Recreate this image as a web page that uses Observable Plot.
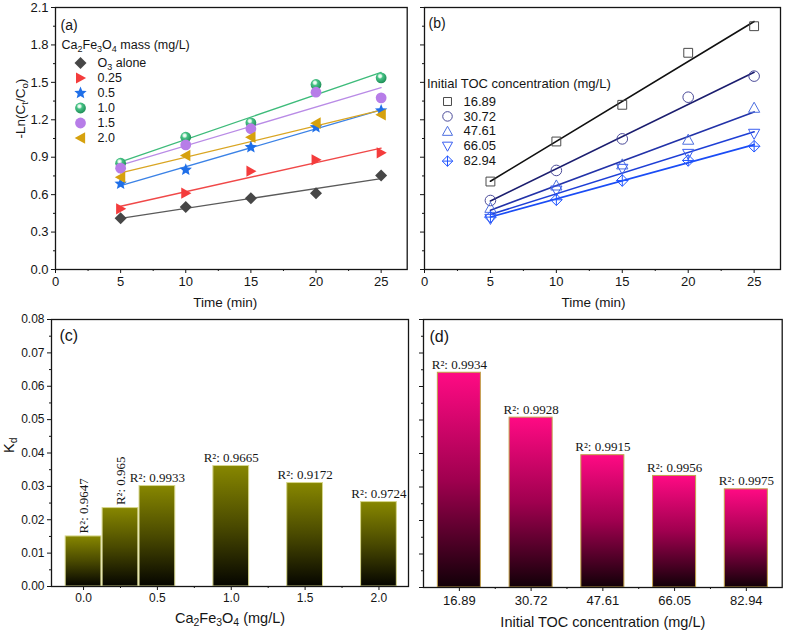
<!DOCTYPE html>
<html><head><meta charset="utf-8">
<script src="https://cdn.jsdelivr.net/npm/d3@7"></script>
<script src="https://cdn.jsdelivr.net/npm/@observablehq/plot@0.6"></script>
<style>
body{margin:0;background:#fff;}
#root{position:relative;width:787px;height:630px;overflow:hidden;background:#fff;}
#root svg{position:absolute;overflow:visible;}
</style></head><body><div id="root"></div>
<script>
// ---------- DATA ----------
const times = [5, 10, 15, 20, 25];

// panel (a): -Ln(Ct/Co) vs time for Ca2Fe3O4 mass
const massLabels = ["O_{3} alone", "0.25", "0.5", "1.0", "1.5", "2.0"];
const massO3  = [0.411, 0.500, 0.571, 0.612, 0.753];
const mass025 = [0.486, 0.612, 0.788, 0.879, 0.935];
const mass05  = [0.687, 0.799, 0.980, 1.140, 1.274];
const mass10  = [0.852, 1.060, 1.176, 1.483, 1.536];
const mass15  = [0.812, 0.999, 1.128, 1.421, 1.376];
const mass20  = [0.740, 0.914, 1.060, 1.173, 1.240];

// panel (b): -Ln(Ct/Co) vs time for initial TOC
const tocLabels = ["16.89", "30.72", "47.61", "66.05", "82.94"];
const toc1689 = [0.705, 1.026, 1.320, 1.737, 1.950];
const toc3072 = [0.553, 0.794, 1.047, 1.381, 1.550];
const toc4761 = [0.494, 0.673, 0.842, 1.040, 1.296];
const toc6605 = [0.406, 0.633, 0.807, 0.927, 1.088];
const toc8294 = [0.420, 0.559, 0.713, 0.874, 0.988];

// panel (c): Kd vs Ca2Fe3O4 dose
const doseX  = [0, 0.25, 0.5, 1.0, 1.5, 2.0];
const doseKd = [0.0150, 0.0235, 0.0301, 0.0361, 0.0310, 0.0253];
const doseR2 = ["0.9647", "0.965", "0.9933", "0.9665", "0.9172", "0.9724"];

// panel (d): Kd vs initial TOC
const tocKd = [0.0641, 0.0507, 0.0395, 0.0333, 0.0293];
const tocR2 = ["0.9934", "0.9928", "0.9915", "0.9956", "0.9975"];

// tick values
const lnTicks = [0, 0.3, 0.6, 0.9, 1.2, 1.5, 1.8, 2.1];
const lnMinor = [0.15, 0.45, 0.75, 1.05, 1.35, 1.65, 1.95];
const timeTicks = [0, 5, 10, 15, 20, 25];
const timeMinor = [2.5, 7.5, 12.5, 17.5, 22.5];
const kdTicks = [0, 0.01, 0.02, 0.03, 0.04, 0.05, 0.06, 0.07, 0.08];
const kdMinor = [0.005, 0.015, 0.025, 0.035, 0.045, 0.055, 0.065, 0.075];
const doseTicks = [0, 0.5, 1.0, 1.5, 2.0];
const doseMinor = [0.25, 0.75, 1.25, 1.75];

// ---------- HELPERS ----------
const NS = "http://www.w3.org/2000/svg";
const SANS = "'Liberation Sans', Arial, sans-serif";
const SERIF = "'Liberation Serif', 'Times New Roman', serif";
const INK = "#151515";

function sym(fn) { return {draw(c, size) { fn(c, Math.sqrt(size / Math.PI)); }}; }
const diamond = sym((c, r) => { c.moveTo(0, -r); c.lineTo(r, 0); c.lineTo(0, r); c.lineTo(-r, 0); c.closePath(); });
const triRight = sym((c, r) => { c.moveTo(r, 0); c.lineTo(-0.8 * r, -r); c.lineTo(-0.8 * r, r); c.closePath(); });
const triLeft = sym((c, r) => { c.moveTo(-r, 0); c.lineTo(0.8 * r, -r); c.lineTo(0.8 * r, r); c.closePath(); });
const triUp = sym((c, r) => { c.moveTo(0, -r); c.lineTo(r, 0.8 * r); c.lineTo(-r, 0.8 * r); c.closePath(); });
const triDown = sym((c, r) => { c.moveTo(0, r); c.lineTo(r, -0.8 * r); c.lineTo(-r, -0.8 * r); c.closePath(); });
const square = sym((c, r) => { c.rect(-0.85 * r, -0.85 * r, 1.7 * r, 1.7 * r); });
const circle = sym((c, r) => { c.moveTo(r, 0); c.arc(0, 0, r, 0, 2 * Math.PI); });
const diamondPlus = sym((c, r) => {
  c.moveTo(0, -r); c.lineTo(r, 0); c.lineTo(0, r); c.lineTo(-r, 0); c.closePath();
  c.moveTo(0, -r); c.lineTo(0, r); c.moveTo(-r, 0); c.lineTo(r, 0);
});
const star = sym((c, r) => {
  const R = r * 1.2, q = R * 0.45;
  for (let i = 0; i < 10; i++) {
    const a = -Math.PI / 2 + i * Math.PI / 5, rr = i % 2 ? q : R;
    const x = rr * Math.cos(a), y = rr * Math.sin(a);
    i ? c.lineTo(x, y) : c.moveTo(x, y);
  }
  c.closePath();
});

function defsMark(markup) {
  return () => { const d = document.createElementNS(NS, "defs"); d.innerHTML = markup; return d; };
}

// turn "_{x}" / "^{x}" markers into sub/superscript tspans
function richify(svg) {
  svg.querySelectorAll("text").forEach(t => {
    const s = t.textContent;
    if (!/[_^]\{/.test(s)) return;
    const fs = parseFloat(getComputedStyle(t).fontSize) || 13;
    t.textContent = "";
    let back = 0;
    const add = (str, kind) => {
      const ts = document.createElementNS(NS, "tspan");
      ts.textContent = str;
      if (kind) {
        const shift = kind === "_" ? 0.2 * fs : -0.36 * fs;
        ts.setAttribute("font-size", (0.72 * fs).toFixed(2) + "px");
        ts.setAttribute("dy", (shift + back).toFixed(2));
        back = -shift;
      } else if (back) {
        ts.setAttribute("dy", back.toFixed(2)); back = 0;
      }
      t.appendChild(ts);
    };
    const re = /([_^])\{([^}]*)\}/g; let last = 0, m;
    while ((m = re.exec(s))) {
      if (m.index > last) add(s.slice(last, m.index));
      add(m[2], m[1]);
      last = re.lastIndex;
    }
    if (last < s.length) add(s.slice(last));
  });
}

function place(svg, left, top) {
  svg.style.position = "absolute"; svg.style.left = left + "px"; svg.style.top = top + "px";
  document.getElementById("root").appendChild(svg);
  richify(svg);
}

const baseStyle = {fontFamily: SANS, fontSize: "13px", color: INK, background: "none", overflow: "visible"};
const noLabel = () => "";

function series(values) { return times.map((t, i) => ({t, v: values[i]})); }

// ---------- PANEL (a) ----------
const massValues = [massO3, mass025, mass05, mass10, mass15, mass20];
const massStyle = [
  {symbol: diamond, r: 6, fill: "#474747", line: "#5a5a5a"},
  {symbol: triRight, r: 5.6, fill: "#f43c3c", line: "#f04848"},
  {symbol: star, r: 5.4, fill: "#1f6fe8", line: "#3b82e6"},
  {symbol: circle, r: 5.4, fill: "url(#sphG)", line: "#3dbb7a"},
  {symbol: circle, r: 5.4, fill: "#b77de8", line: "#b98be6"},
  {symbol: triLeft, r: 5.8, fill: "#d6a10e", line: "#d9a522"}
];
const marksA = [
  defsMark(`<radialGradient id="sphG" cx="0.4" cy="0.34" r="0.68">
    <stop offset="0" stop-color="#ffffff"/><stop offset="0.2" stop-color="#d8f5e4"/>
    <stop offset="0.38" stop-color="#46c285"/><stop offset="1" stop-color="#1d8b55"/></radialGradient>`),
  Plot.axisY({ticks: lnTicks, tickSize: 4, tickPadding: 3, tickFormat: d3.format(".1f"), label: null, fontSize: 13, stroke: INK}),
  Plot.axisY({ticks: lnMinor, tickSize: 2, tickFormat: noLabel, label: null, stroke: INK}),
  Plot.axisX({ticks: timeTicks, tickSize: 4, tickPadding: 3, label: null, fontSize: 13, stroke: INK}),
  Plot.axisX({ticks: timeMinor, tickSize: 2, tickFormat: noLabel, label: null, stroke: INK}),
  Plot.frame({stroke: INK, strokeWidth: 1.3})
];
massValues.forEach((vals, i) => {
  marksA.push(Plot.linearRegressionY(series(vals), {x: "t", y: "v", ci: 0, stroke: massStyle[i].line, strokeWidth: 1.3}));
});
massValues.forEach((vals, i) => {
  const s = massStyle[i];
  marksA.push(Plot.dot(series(vals), {x: "t", y: "v", symbol: s.symbol, r: s.r, fill: s.fill, stroke: "none"}));
});
marksA.push(Plot.text(["Ca_{2}Fe_{3}O_{4} mass (mg/L)"], {frameAnchor: "top-left", dx: 6, dy: 37.5, textAnchor: "start", lineAnchor: "middle", fontSize: 12.5, fill: INK}));
massLabels.forEach((lab, i) => {
  const s = massStyle[i];
  marksA.push(Plot.dot([0], {frameAnchor: "top-left", dx: 25, dy: 55.5 + i * 15, symbol: s.symbol, r: s.r, fill: s.fill, stroke: "none"}));
  marksA.push(Plot.text([lab], {frameAnchor: "top-left", dx: 42, dy: 55.5 + i * 15, textAnchor: "start", lineAnchor: "middle", fontSize: 12.5, fill: INK}));
});
marksA.push(Plot.text(["(a)"], {frameAnchor: "top-left", dx: 5, dy: 18, textAnchor: "start", lineAnchor: "middle", fontSize: 14, fill: INK}));
marksA.push(Plot.text(["Time (min)"], {frameAnchor: "bottom", dx: -6, dy: 33, lineAnchor: "middle", fontSize: 13.5, fill: INK}));
marksA.push(Plot.text(["-Ln(C_{t}/C_{o})"], {frameAnchor: "left", dx: -35, rotate: -90, lineAnchor: "middle", fontSize: 13.5, fill: INK}));

place(Plot.plot({
  width: 410, height: 310, marginLeft: 55, marginRight: 3.3, marginTop: 7, marginBottom: 41,
  x: {domain: [0, 27]}, y: {domain: [0, 2.1]}, style: baseStyle, marks: marksA
}), 0, 0);

// ---------- PANEL (b) ----------
const tocValues = [toc1689, toc3072, toc4761, toc6605, toc8294];
const tocStyle = [
  {symbol: square, r: 5.2, stroke: "#4a4a4a", line: "#101010"},
  {symbol: circle, r: 5.3, stroke: "#4b4b99", line: "#1b1d6e"},
  {symbol: triUp, r: 5.6, stroke: "#4d6fe0", line: "#2232a8"},
  {symbol: triDown, r: 5.6, stroke: "#3a5ef0", line: "#1e3fd6"},
  {symbol: diamondPlus, r: 5.8, stroke: "#2155ff", line: "#1a4cf5"}
];
const marksB = [
  Plot.axisY({ticks: lnTicks, tickSize: 4, tickFormat: noLabel, label: null, stroke: INK}),
  Plot.axisY({ticks: lnMinor, tickSize: 2, tickFormat: noLabel, label: null, stroke: INK}),
  Plot.axisX({ticks: timeTicks, tickSize: 4, tickPadding: 3, label: null, fontSize: 13, stroke: INK}),
  Plot.axisX({ticks: timeMinor, tickSize: 2, tickFormat: noLabel, label: null, stroke: INK}),
  Plot.frame({stroke: INK, strokeWidth: 1.3})
];
tocValues.forEach((vals, i) => {
  marksB.push(Plot.linearRegressionY(series(vals), {x: "t", y: "v", ci: 0, stroke: tocStyle[i].line, strokeWidth: 1.6}));
});
tocValues.forEach((vals, i) => {
  const s = tocStyle[i];
  marksB.push(Plot.dot(series(vals), {x: "t", y: "v", symbol: s.symbol, r: s.r, fill: "none", stroke: s.stroke, strokeWidth: 1}));
});
marksB.push(Plot.text(["Initial TOC concentration (mg/L)"], {frameAnchor: "top-left", dx: 2.5, dy: 76, textAnchor: "start", lineAnchor: "middle", fontSize: 13, fill: INK}));
tocLabels.forEach((lab, i) => {
  const s = tocStyle[i];
  marksB.push(Plot.dot([0], {frameAnchor: "top-left", dx: 23, dy: 94 + i * 14.9, symbol: s.symbol, r: s.r * 0.9, fill: "none", stroke: s.stroke, strokeWidth: 1}));
  marksB.push(Plot.text([lab], {frameAnchor: "top-left", dx: 39, dy: 94 + i * 14.9, textAnchor: "start", lineAnchor: "middle", fontSize: 13, fill: INK}));
});
marksB.push(Plot.text(["(b)"], {frameAnchor: "top-left", dx: 4, dy: 16, textAnchor: "start", lineAnchor: "middle", fontSize: 14, fill: INK}));
marksB.push(Plot.text(["Time (min)"], {frameAnchor: "bottom", dx: -9, dy: 33, lineAnchor: "middle", fontSize: 13.5, fill: INK}));

place(Plot.plot({
  width: 387, height: 310, marginLeft: 24, marginRight: 7, marginTop: 7, marginBottom: 41,
  x: {domain: [0, 27]}, y: {domain: [0, 2.1]}, style: baseStyle, marks: marksB
}), 400, 0);

// ---------- PANEL (c) ----------
const cData = doseX.map((x, i) => ({x, k: doseKd[i], r2: doseR2[i]}));
const marksC = [
  defsMark(`<linearGradient id="gradOlive" x1="0" y1="0" x2="0" y2="1">
    <stop offset="0" stop-color="#878700"/><stop offset="0.5" stop-color="#4a4a00"/><stop offset="1" stop-color="#050500"/></linearGradient>`),
  Plot.axisY({ticks: kdTicks, tickSize: 4, tickPadding: 3, tickFormat: d3.format(".2f"), label: null, fontSize: 12, stroke: INK}),
  Plot.axisY({ticks: kdMinor, tickSize: 2, tickFormat: noLabel, label: null, stroke: INK}),
  Plot.axisX({ticks: doseTicks, tickSize: 4, tickPadding: 3, tickFormat: d3.format(".1f"), label: null, fontSize: 12, stroke: INK}),
  Plot.axisX({ticks: doseMinor, tickSize: 2, tickFormat: noLabel, label: null, stroke: INK}),
  Plot.rectY(cData, {x1: d => d.x - 0.121, x2: d => d.x + 0.121, y1: 0, y2: "k", fill: "url(#gradOlive)", stroke: "#d6d68a", strokeWidth: 1}),
  Plot.frame({stroke: INK, strokeWidth: 1.3}),
  Plot.text(cData.filter((d, i) => i < 2), {x: "x", y: "k", text: d => "R²: " + d.r2, rotate: -90, textAnchor: "start", lineAnchor: "middle", dy: -3, fontFamily: SERIF, fontSize: 13, fill: INK}),
  Plot.text(cData.filter((d, i) => i >= 2), {x: "x", y: "k", text: d => "R²: " + d.r2, textAnchor: "middle", lineAnchor: "bottom", dy: -4, fontFamily: SERIF, fontSize: 13, fill: INK}),
  Plot.text(["(c)"], {frameAnchor: "top-left", dx: 8, dy: 16, textAnchor: "start", lineAnchor: "middle", fontSize: 16, fill: INK}),
  Plot.text(["Ca_{2}Fe_{3}O_{4} (mg/L)"], {frameAnchor: "bottom", dy: 32, lineAnchor: "middle", fontSize: 14.5, fill: INK}),
  Plot.text(["K_{d}"], {frameAnchor: "left", dx: -42, rotate: -90, lineAnchor: "middle", fontSize: 14.5, fill: INK})
];
place(Plot.plot({
  width: 412, height: 320, marginLeft: 51, marginRight: 4, marginTop: 9, marginBottom: 44,
  x: {domain: [-0.217, 2.2]}, y: {domain: [0, 0.08]}, style: baseStyle, marks: marksC
}), 0, 310);

// ---------- PANEL (d) ----------
const dData = tocLabels.map((c, i) => ({i: i + 1, cat: c, k: tocKd[i], r2: tocR2[i]}));
const marksD = [
  defsMark(`<linearGradient id="gradPink" x1="0" y1="0" x2="0" y2="1">
    <stop offset="0" stop-color="#ff0a84"/><stop offset="0.5" stop-color="#a0004f"/><stop offset="1" stop-color="#120008"/></linearGradient>`),
  Plot.axisY({ticks: kdTicks, tickSize: 4, tickFormat: noLabel, label: null, stroke: INK}),
  Plot.axisY({ticks: kdMinor, tickSize: 2, tickFormat: noLabel, label: null, stroke: INK}),
  Plot.axisX({ticks: dData.map(d => d.i), tickSize: 4, tickPadding: 4, tickFormat: v => tocLabels[v - 1], label: null, fontSize: 13, stroke: INK}),
  Plot.axisX({ticks: dData.slice(1).map(d => d.i - 0.5), tickSize: 2, tickFormat: noLabel, label: null, stroke: INK}),
  Plot.rectY(dData, {x1: d => d.i - 0.3, x2: d => d.i + 0.3, y1: 0, y2: "k", fill: "url(#gradPink)", stroke: "#c2a24a", strokeWidth: 1}),
  Plot.frame({stroke: INK, strokeWidth: 1.3}),
  Plot.text(dData, {x: "i", y: "k", text: d => "R²: " + d.r2, textAnchor: "middle", lineAnchor: "bottom", dy: -4, fontFamily: SERIF, fontSize: 13, fill: INK}),
  Plot.text(["(d)"], {frameAnchor: "top-left", dx: 6, dy: 17.5, textAnchor: "start", lineAnchor: "middle", fontSize: 16, fill: INK}),
  Plot.text(["Initial TOC concentration (mg/L)"], {frameAnchor: "bottom", dy: 34.5, lineAnchor: "middle", fontSize: 14.5, fill: INK})
];
place(Plot.plot({
  width: 387, height: 320, marginLeft: 23, marginRight: 5.3, marginTop: 9, marginBottom: 43,
  x: {domain: [0.5, 5.5]}, y: {domain: [0, 0.08]}, style: baseStyle, marks: marksD
}), 400, 310);
</script></body></html>
